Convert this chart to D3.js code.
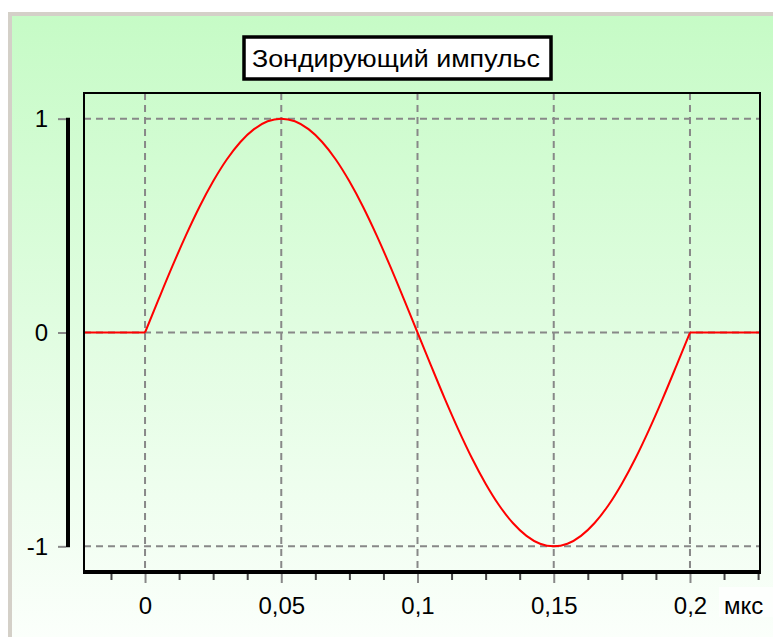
<!DOCTYPE html>
<html>
<head>
<meta charset="utf-8">
<script src="https://cdn.jsdelivr.net/npm/d3@7"></script>
<style>
  body { margin: 0; background: #fff; }
  svg { display: block; font-family: "Liberation Sans", Arial, sans-serif; }
</style>
</head>
<body>
<svg id="chart" width="773" height="637"></svg>
<script>
// pulse samples (time in мкс, amplitude)
var TIMES = [-0.0224, 0, 0.005, 0.01, 0.015, 0.02, 0.025, 0.03, 0.035, 0.04, 0.045,
  0.05, 0.055, 0.06, 0.065, 0.07, 0.075, 0.08, 0.085, 0.09, 0.095,
  0.1, 0.105, 0.11, 0.115, 0.12, 0.125, 0.13, 0.135, 0.14, 0.145,
  0.15, 0.155, 0.16, 0.165, 0.17, 0.175, 0.18, 0.185, 0.19, 0.195, 0.2, 0.2257];
var AMPS = [0, 0, 0.156, 0.309, 0.454, 0.588, 0.707, 0.809, 0.891, 0.951, 0.988,
  1, 0.988, 0.951, 0.891, 0.809, 0.707, 0.588, 0.454, 0.309, 0.156,
  0, -0.156, -0.309, -0.454, -0.588, -0.707, -0.809, -0.891, -0.951, -0.988,
  -1, -0.988, -0.951, -0.891, -0.809, -0.707, -0.588, -0.454, -0.309, -0.156, 0, 0];

var X_TICKS = [0, 0.05, 0.1, 0.15, 0.2];
var X_MINOR = [-0.0125, 0.0125, 0.025, 0.0375, 0.0625, 0.075, 0.0875, 0.1125, 0.125,
  0.1375, 0.1625, 0.175, 0.1875, 0.2125, 0.225];
var Y_TICKS = [-1, 0, 1];
var TITLE = "Зондирующий импульс";
var X_UNIT = "мкс";

var svg = d3.select("#chart");

var x = d3.scaleLinear().domain([-0.0224, 0.2257]).range([84, 760]);
var y = d3.scaleLinear().domain([-1.12, 1.12]).range([572, 93]);

// panel background
var defs = svg.append("defs");
var grad = defs.append("linearGradient").attr("id", "bg")
  .attr("x1", 0).attr("y1", 0).attr("x2", 0).attr("y2", 1);
grad.append("stop").attr("offset", "0%").attr("stop-color", "#c6fbc6");
grad.append("stop").attr("offset", "100%").attr("stop-color", "#fbfffb");

svg.append("rect").attr("x", 8).attr("y", 12).attr("width", 765).attr("height", 625)
  .attr("fill", "#d4d0c8");
svg.append("rect").attr("x", 12).attr("y", 16).attr("width", 761).attr("height", 621)
  .attr("fill", "url(#bg)");

// grid
var grid = svg.append("g").attr("stroke", "#888").attr("stroke-width", 2)
  .attr("stroke-dasharray", "7,5");
grid.selectAll("line.v").data(X_TICKS).enter().append("line")
  .attr("x1", function(d){ return x(d); }).attr("x2", function(d){ return x(d); })
  .attr("y1", y.range()[1]).attr("y2", y.range()[0]);
grid.selectAll("line.h").data(Y_TICKS).enter().append("line")
  .attr("y1", function(d){ return y(d); }).attr("y2", function(d){ return y(d); })
  .attr("x1", x.range()[0]).attr("x2", x.range()[1]);

// pulse: flat parts straight, the wave itself smoothed
var pts = TIMES.map(function(t, i){ return [t, AMPS[i]]; });
var n = pts.length;
var flat = d3.line()
  .x(function(d){ return x(d[0]); })
  .y(function(d){ return y(d[1]); });
var wave = d3.line()
  .x(function(d){ return x(d[0]); })
  .y(function(d){ return y(d[1]); })
  .curve(d3.curveMonotoneX);
var pulse = svg.append("g").attr("fill", "none").attr("stroke", "#ff0000")
  .attr("stroke-width", 2).attr("stroke-linejoin", "round");
pulse.append("path").attr("d", flat(pts.slice(0, 2)));
pulse.append("path").attr("d", wave(pts.slice(1, n - 1)));
pulse.append("path").attr("d", flat(pts.slice(n - 2)));

// plot frame
svg.append("rect").attr("x", 84).attr("y", 93).attr("width", 676).attr("height", 479)
  .attr("fill", "none").attr("stroke", "#000").attr("stroke-width", 2);
svg.append("line").attr("x1", 83).attr("x2", 761).attr("y1", 572).attr("y2", 572)
  .attr("stroke", "#000").attr("stroke-width", 4);

// x axis
var xMinor = svg.append("g").attr("transform", "translate(0,574)")
  .call(d3.axisBottom(x).tickValues(X_MINOR).tickSize(6).tickFormat(""));
xMinor.select(".domain").remove();
xMinor.selectAll(".tick line").attr("stroke", "#444").attr("stroke-width", 2);

var xAxis = svg.append("g").attr("transform", "translate(0,574)")
  .call(d3.axisBottom(x).tickValues(X_TICKS).tickSize(9).tickPadding(14)
    .tickFormat(function(d){ return String(d).replace(".", ","); }));
xAxis.select(".domain").remove();
xAxis.selectAll(".tick line").attr("stroke", "#888").attr("stroke-width", 2);
xAxis.selectAll(".tick text").attr("font-size", 24)
  .attr("font-family", "Liberation Sans, Arial, sans-serif").attr("fill", "#000");

svg.append("rect").attr("x", 719).attr("y", 587).attr("width", 54).attr("height", 30)
  .attr("fill", "#fdfffd");
svg.append("text").attr("x", 724).attr("y", 614).attr("font-size", 24)
  .attr("fill", "#000").text(X_UNIT);

// y axis
var yAxis = svg.append("g").attr("transform", "translate(66,0)")
  .call(d3.axisLeft(y).tickValues(Y_TICKS).tickSize(8).tickPadding(10)
    .tickFormat(function(d){ return String(d); }));
yAxis.select(".domain").remove();
yAxis.selectAll(".tick line").attr("stroke", "#888").attr("stroke-width", 2);
yAxis.selectAll(".tick text").attr("font-size", 24)
  .attr("font-family", "Liberation Sans, Arial, sans-serif").attr("fill", "#000");
svg.append("line").attr("x1", 68).attr("x2", 68).attr("y1", y(1) - 1).attr("y2", y(-1) + 1)
  .attr("stroke", "#000").attr("stroke-width", 4);

// title box
svg.append("rect").attr("x", 244).attr("y", 37).attr("width", 307).attr("height", 42)
  .attr("fill", "#fff").attr("stroke", "#000").attr("stroke-width", 3.5);
svg.append("text").attr("x", 252).attr("y", 67).attr("font-size", 23)
  .attr("textLength", 288).attr("lengthAdjust", "spacingAndGlyphs")
  .attr("fill", "#000").text(TITLE);
</script>
</body>
</html>
